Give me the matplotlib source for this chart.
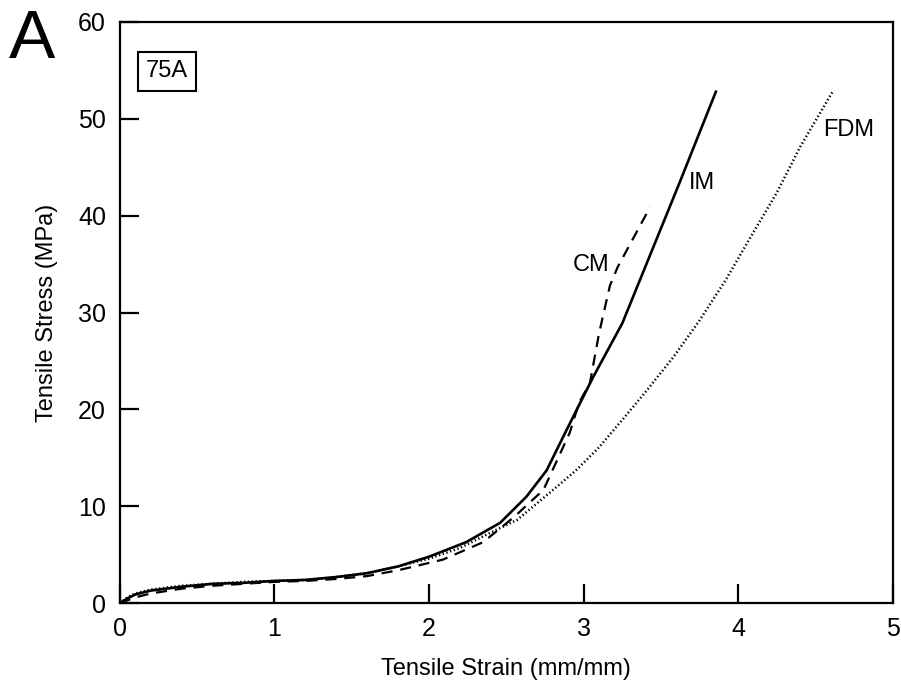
import numpy as np
import matplotlib.pyplot as plt

plt.rcParams['font.family'] = ['Liberation Sans', 'DejaVu Sans']

# IM (injection moulded) - solid
im_x = [0, 0.05, 0.1, 0.2, 0.4, 0.6, 0.8, 1.0, 1.2, 1.4, 1.6, 1.8, 2.0, 2.24, 2.46, 2.63, 2.76, 2.89, 3.06, 3.25, 3.62, 3.855]
im_y = [0, 0.5, 0.9, 1.3, 1.7, 2.0, 2.1, 2.3, 2.4, 2.7, 3.1, 3.8, 4.8, 6.3, 8.3, 11.0, 13.7, 17.9, 23.3, 28.9, 43.4, 52.8]

# CM (compression moulded) - dashed
cm_x = [0, 0.05, 0.1, 0.2, 0.4, 0.6, 0.8, 1.0, 1.2, 1.4, 1.6, 1.8, 2.09, 2.35, 2.55, 2.74, 2.91, 2.97, 3.04, 3.10, 3.17, 3.22, 3.43]
cm_y = [0, 0.3, 0.6, 1.0, 1.5, 1.8, 2.0, 2.2, 2.3, 2.5, 2.8, 3.4, 4.5, 6.3, 8.9, 11.7, 17.6, 20.7, 22.7, 27.9, 32.8, 34.7, 40.9]

# FDM - dotted
fdm_x = [0, 0.05, 0.1, 0.2, 0.4, 0.6, 0.8, 1.0, 1.2, 1.4, 1.6, 1.8, 2.0, 2.2, 2.4, 2.57, 2.78, 2.95, 3.10, 3.28, 3.41, 3.58, 3.75, 3.92, 4.08, 4.25, 4.40, 4.61]
fdm_y = [0, 0.6, 1.0, 1.4, 1.8, 2.0, 2.2, 2.3, 2.4, 2.7, 3.1, 3.8, 4.6, 5.7, 7.3, 8.6, 11.4, 13.7, 16.1, 19.5, 22.0, 25.4, 29.2, 33.4, 37.8, 42.4, 47.1, 52.8]

fig = plt.figure(figsize=(9.01, 6.87), dpi=100)
ax = fig.add_axes([0.133, 0.122, 0.858, 0.846])

ax.plot(im_x, im_y, '-', color='black', lw=1.9)
ax.plot(cm_x, cm_y, color='black', lw=1.6, dashes=(5, 3.5))
ax.plot(fdm_x, fdm_y, color='black', lw=1.8, linestyle=(0, (0.55, 1.0)))

ax.set_xlim(0, 5)
ax.set_ylim(0, 60)
ax.set_xticks([0, 1, 2, 3, 4, 5])
ax.set_yticks([0, 10, 20, 30, 40, 50, 60])
ax.tick_params(direction='in', length=14, width=1.6, labelsize=18, pad=10)
for s in ax.spines.values():
    s.set_linewidth(1.6)

ax.set_xlabel("Tensile Strain (mm/mm)", fontsize=17, labelpad=12)
ax.set_ylabel("Tensile Stress (MPa)", fontsize=17, labelpad=14)

ax.text(3.68, 43.4, "IM", fontsize=17, ha='left', va='center')
ax.text(3.17, 34.9, "CM", fontsize=17, ha='right', va='center')
ax.text(4.55, 48.9, "FDM", fontsize=17, ha='left', va='center')
ax.text(0.304, 54.9, "75A", fontsize=17, ha='center', va='center',
        bbox=dict(boxstyle='square,pad=0.35', fc='white', ec='black', lw=1.5))

fig.text(0.01, 0.988, "A", fontsize=50, ha='left', va='top')

fig.savefig("out.png", dpi=100)
